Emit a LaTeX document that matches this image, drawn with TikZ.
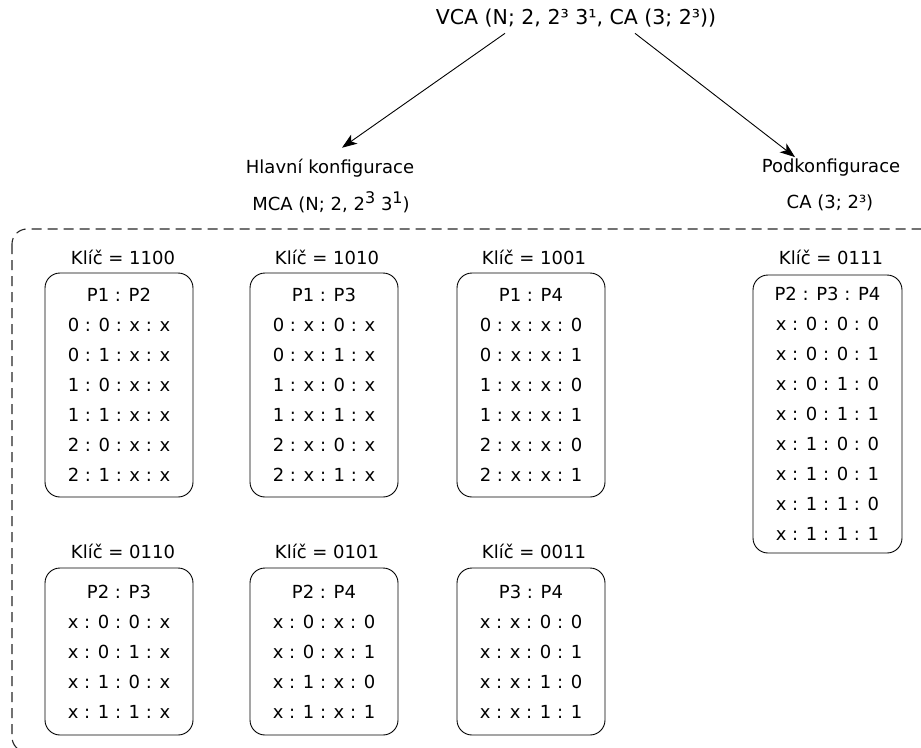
\documentclass[tikz,border=0pt]{standalone}
\usepackage{fontspec}
\setmainfont{DejaVu Sans}
\usetikzlibrary{arrows.meta}

% raised superscript digit in the label font size
\newcommand{\supdig}[1]{\raisebox{0.40em}{\fontsize{16}{16}\selectfont #1}}

\begin{document}
\begin{tikzpicture}[x=1pt, y=-1pt,
  every node/.style={inner sep=0pt, font=\fontsize{18}{30}\selectfont},
  titletext/.style={font=\fontsize{20.5}{24}\selectfont},
  keylabel/.style={anchor=center},
  cfgbox/.style={draw, line width=0.9pt, rounded corners=15pt,
    minimum width=148pt, align=center},
  arr/.style={line width=0.9pt, -{Stealth[length=15pt, width=11pt, inset=4pt]}},
  frame/.style={line width=1.1pt, draw=black!85, dash pattern=on 10pt off 6pt,
    rounded corners=15pt}
]
\useasboundingbox (0,0) rectangle (921,747);
\clip (0,0) rectangle (921,747);

% top level
\node[titletext] (vca) at (576,18) {VCA (N; 2, 2³ 3¹, CA (3; 2³))};

% the two sub-levels
\node (hl)  at (330,168) {Hlavní konfigurace};
\node (mca) at (331,202) {MCA (N; 2, 2\supdig{3} 3\supdig{1})};
\node (pod) at (831,168) {Podkonfigurace};
\node (ca)  at (830,203) {CA (3; 2³)};

\draw[arr] ([xshift=-71pt, yshift=-6pt]vca.south) -- ([xshift=12pt, yshift=11pt]hl.north);
\draw[arr] ([xshift=59pt, yshift=-6pt]vca.south) -- ([xshift=-36pt, yshift=2pt]pod.north);

% dashed frame around the configurations
\draw[frame] (12,229) rectangle (945,752);

% first row of keys
\node[keylabel] (k1) at (123,257) {Klíč = 1100};
\node[cfgbox, minimum height=224pt] (b1) at (119,385)
  {P1 : P2\\0 : 0 : x : x\\0 : 1 : x : x\\1 : 0 : x : x\\1 : 1 : x : x\\2 : 0 : x : x\\2 : 1 : x : x};
\node[keylabel] (k2) at (327,257) {Klíč = 1010};
\node[cfgbox, minimum height=224pt] (b2) at (324,385)
  {P1 : P3\\0 : x : 0 : x\\0 : x : 1 : x\\1 : x : 0 : x\\1 : x : 1 : x\\2 : x : 0 : x\\2 : x : 1 : x};
\node[keylabel] (k3) at (534,257) {Klíč = 1001};
\node[cfgbox, minimum height=224pt] (b3) at (531,385)
  {P1 : P4\\0 : x : x : 0\\0 : x : x : 1\\1 : x : x : 0\\1 : x : x : 1\\2 : x : x : 0\\2 : x : x : 1};

% second row of keys
\node[keylabel] (k4) at (123,551) {Klíč = 0110};
\node[cfgbox, minimum height=167pt] (b4) at (119,651.5)
  {P2 : P3\\x : 0 : 0 : x\\x : 0 : 1 : x\\x : 1 : 0 : x\\x : 1 : 1 : x};
\node[keylabel] (k5) at (327,551) {Klíč = 0101};
\node[cfgbox, minimum height=167pt] (b5) at (324,651.5)
  {P2 : P4\\x : 0 : x : 0\\x : 0 : x : 1\\x : 1 : x : 0\\x : 1 : x : 1};
\node[keylabel] (k6) at (534,551) {Klíč = 0011};
\node[cfgbox, minimum height=167pt] (b6) at (531,651.5)
  {P3 : P4\\x : x : 0 : 0\\x : x : 0 : 1\\x : x : 1 : 0\\x : x : 1 : 1};

% sub-configuration
\node[keylabel] (k7) at (831,257) {Klíč = 0111};
\node[cfgbox, minimum height=278pt, minimum width=149pt] (b7) at (827.5,414)
  {P2 : P3 : P4\\x : 0 : 0 : 0\\x : 0 : 0 : 1\\x : 0 : 1 : 0\\x : 0 : 1 : 1\\x : 1 : 0 : 0\\x : 1 : 0 : 1\\x : 1 : 1 : 0\\x : 1 : 1 : 1};
\end{tikzpicture}
\end{document}
